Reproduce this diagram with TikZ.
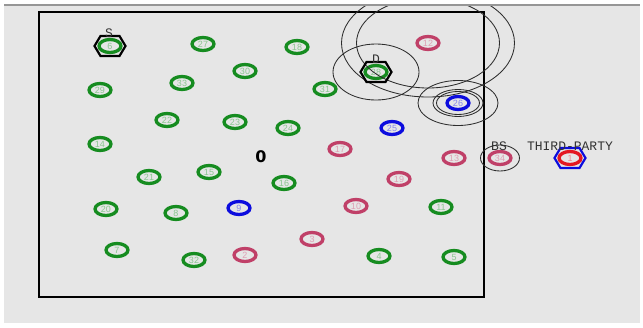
\documentclass[tikz,border=0pt]{standalone}
\usepackage{fontspec}
\newfontfamily\labfont{Liberation Mono}
\newfontfamily\numfont{Liberation Sans}
\newfontfamily\zerofont{DejaVu Sans}
\usetikzlibrary{shapes.geometric}
\definecolor{bggray}{RGB}{230,230,230}
\definecolor{topline}{RGB}{150,150,150}
\definecolor{ngreen}{RGB}{22,140,32}
\definecolor{npink}{RGB}{192,64,104}
\definecolor{nblue}{RGB}{12,12,222}
\definecolor{nred}{RGB}{228,24,34}
\definecolor{rangec}{RGB}{45,45,45}
\newcommand\hexaround[2]{\draw[#2, hexline] ([shift={(-15.5,0)}]#1.center) -- ([shift={(-9.5,-10)}]#1.center) -- ([shift={(9.5,-10)}]#1.center) -- ([shift={(15.5,0)}]#1.center) -- ([shift={(9.5,10)}]#1.center) -- ([shift={(-9.5,10)}]#1.center) -- cycle;}
\begin{document}
\begin{tikzpicture}[x=1pt,y=-1pt,
 ring/.style={ellipse, line width=3.3pt, minimum width=22pt, minimum height=13pt, inner sep=0pt, font=\numfont\fontsize{9}{9}\selectfont},
 gnode/.style={ring, draw=ngreen, text=ngreen!50!white},
 pnode/.style={ring, draw=npink, text=npink!50!white},
 bnode/.style={ring, draw=nblue, text=nblue!50!white},
 rnode/.style={ring, draw=nred, text=nred!50!white},
 tag/.style={font=\labfont\fontsize{13}{13}\selectfont, text=black!80, inner sep=0pt},
 rangeline/.style={draw=rangec, line width=0.85pt},
 hexline/.style={line width=2.2pt}]

\useasboundingbox (0,0) rectangle (643,327);
\fill[white] (0,0) rectangle (643,327);
\fill[bggray] (4,5) rectangle (640,323);
\draw[topline, line width=1.2pt] (4,5) -- (640,5);

% field
\draw[line width=1.8pt] (39,12) rectangle (484,297);

% nodes
\node[gnode] (n6)  at (110,46) {6};
\node[gnode] (n27) at (203,44) {27};
\node[gnode] (n18) at (297,47) {18};
\node[gnode] (n30) at (245,71) {30};
\node[gnode] (n29) at (100,90) {29};
\node[gnode] (n33) at (182,83) {33};
\node[gnode] (n31) at (325,89) {31};
\node[gnode] (n22) at (167,120) {22};
\node[gnode] (n23) at (235,122) {23};
\node[gnode] (n24) at (288,128) {24};
\node[gnode] (n14) at (100,144) {14};
\node[gnode] (n21) at (149,177) {21};
\node[gnode] (n15) at (209,172) {15};
\node[gnode] (n16) at (284,183) {16};
\node[gnode] (n20) at (106,209) {20};
\node[gnode] (n8)  at (176,213) {8};
\node[bnode] (n9)  at (239,208) {9};
\node[gnode] (n7)  at (117,250) {7};
\node[gnode] (n32) at (194,260) {32};
\node[pnode] (n2)  at (245,255) {2};
\node[pnode] (n3)  at (312,239) {3};
\node[gnode] (n4)  at (379,256) {4};
\node[gnode] (n5)  at (454,257) {5};
\node[pnode] (n10) at (356,206) {10};
\node[gnode] (n11) at (441,207) {11};
\node[pnode] (n19) at (399,179) {19};
\node[pnode] (n17) at (340,149) {17};
\node[pnode] (n13) at (454,158) {13};
\node[bnode] (n25) at (392,128) {25};
\node[bnode] (n26) at (458,103) {26};
\node[pnode] (n12) at (428,43) {12};
\node[gnode] (n28) at (376,72) {28};
\node[pnode] (n34) at (500,158) {34};
\node[rnode] (n1)  at (570,158) {1};
\node[font=\zerofont\bfseries\fontsize{16}{16}\selectfont, inner sep=0pt] (n0) at (261,157) {0};

% transmission ranges
\begin{scope}
\clip (4,6.5) rectangle (640,323);
\draw[rangeline] (n12.center) ellipse [x radius=71.5, y radius=45];
\draw[rangeline] (n12.center) ellipse [x radius=86.5, y radius=54];
\end{scope}
\draw[rangeline] (n28.center) ellipse [x radius=43, y radius=28];
\draw[rangeline] (n26.center) ellipse [x radius=40, y radius=22.5];
\draw[rangeline] (n26.center) ellipse [x radius=25, y radius=13.5];
\draw[rangeline] (n26.center) ellipse [x radius=21.5, y radius=11.5];
\draw[rangeline] (n34.center) ellipse [x radius=19.5, y radius=13];

% special node frames
\hexaround{n6}{black}
\hexaround{n28}{black}
\hexaround{n1}{nblue}

% tags
\node[tag] (tS)  at (109,33) {S};
\node[tag] (tD)  at (376,59) {D};
\node[tag] (tBS) at (499,146) {BS};
\node[tag] (tTP) at (570,146) {THIRD-PARTY};
\end{tikzpicture}
\end{document}
